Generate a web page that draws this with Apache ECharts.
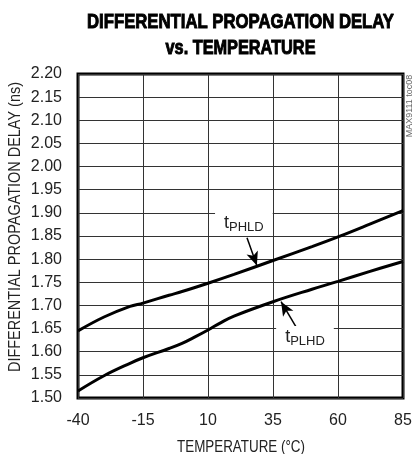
<!DOCTYPE html>
<html><head><meta charset="utf-8">
<script src="https://cdn.jsdelivr.net/npm/echarts@6/dist/echarts.min.js"></script>
<style>html,body{margin:0;padding:0;background:#fff}#c{width:415px;height:454px}</style>
</head><body><div id="c"></div>
<script>
// Temperature (°C) and delay (ns)
const tempPHLD = [-40, -30, -20, -15, -5, 0, 10, 20, 35, 50, 60, 72, 85];
const valPHLD  = [1.645, 1.675, 1.698, 1.705, 1.722, 1.730, 1.748, 1.767, 1.797, 1.827, 1.848, 1.875, 1.905];
const tempPLHD = [-40, -30, -20, -15, -5, 0, 5, 10, 15, 20, 35, 50, 60, 72, 85];
const valPLHD  = [1.515, 1.548, 1.575, 1.587, 1.607, 1.618, 1.632, 1.647, 1.663, 1.677, 1.708, 1.735, 1.752, 1.773, 1.795];
const xTickLabels = ['-40', '-15', '10', '35', '60', '85'];
const yMin = 1.50, yMax = 2.20, yStep = 0.05;
const xMin = -40, xMax = 85, xStep = 25;
const titleLines = ['DIFFERENTIAL PROPAGATION DELAY', 'vs. TEMPERATURE'];
const xName = 'TEMPERATURE (°C)';
const yName = 'DIFFERENTIAL PROPAGATION DELAY (ns)';
// annotation anchors in data space [temp, ns]
const labelPHLD = [23.8, 1.879], arrowPHLD = [[25.0, 1.846], [28.8, 1.786]];
const labelPLHD = [47.3, 1.632], arrowPLHD = [[43.8, 1.654], [38.1, 1.708]];

const off = -xMin; // shift so axis min is 0 (multiple of interval)
const pts = (xs, ys) => xs.map((x, i) => [x + off, ys[i]]);
const c = p => [p[0] + off, p[1]];
const FONT = '"Liberation Sans", Arial, sans-serif';
const cvs = document.createElement('canvas').getContext('2d');
function measure(text, size, weight) { cvs.font = (weight || 'normal') + ' ' + size + 'px ' + FONT; return cvs.measureText(text).width; }
function fitText(text, size, weight, targetW, x, y, rot, color, strokeW) {
  const s = targetW / measure(text, size, weight);
  const style = {text: text, fontFamily: FONT, fontSize: size, fontWeight: weight || 'normal', fill: color || '#222',
      align: 'center', verticalAlign: 'middle'};
  if (strokeW) { style.stroke = color; style.lineWidth = strokeW; }
  return {type: 'text', x: x, y: y, rotation: rot || 0, scaleX: s, silent: true, style: style};
}
const rich = {
  t: {fontSize: 18, fontFamily: FONT, color: '#222', lineHeight: 22},
  s: {fontSize: 13, fontFamily: FONT, color: '#222', lineHeight: 22, padding: [9, 0, 0, 0]}
};
function annot(lbl, arrow, sub) {
  return {
    markPoint: {
      silent: true, symbol: 'rect', symbolSize: 0.1,
      data: [{coord: c(lbl), label: {show: true, position: 'inside', formatter: '{t|t}{s|' + sub + '}',
        rich: rich, backgroundColor: '#fff', padding: [0, 9, 0, 9]}}]
    },
    markLine: {
      silent: true, symbol: ['none', 'arrow'], symbolSize: [9, 14],
      lineStyle: {color: '#000', width: 1.5, type: 'solid'}, label: {show: false},
      data: [[{coord: c(arrow[0])}, {coord: c(arrow[1])}]]
    }
  };
}
const chart = echarts.init(document.getElementById('c'), null, {renderer: 'canvas'});
chart.setOption({
  animation: false,
  grid: {left: 78, right: 12, top: 74, bottom: 56, show: true, borderColor: '#000', borderWidth: 3, backgroundColor: 'transparent'},
  xAxis: {
    type: 'value', min: 0, max: xMax - xMin, interval: xStep,
    axisLine: {show: false}, axisTick: {show: false},
    axisLabel: {margin: 15, fontFamily: FONT, fontSize: 16, color: '#222',
      formatter: v => xTickLabels[Math.round(v / xStep)]},
    splitLine: {show: true, lineStyle: {color: '#333', width: 1}}
  },
  yAxis: {
    type: 'value', min: yMin, max: yMax, interval: yStep,
    axisLine: {show: false}, axisTick: {show: false},
    axisLabel: {margin: 16, fontFamily: FONT, fontSize: 16, color: '#222', formatter: v => v.toFixed(2)},
    splitLine: {show: true, lineStyle: {color: '#333', width: 1}}
  },
  graphic: [
    fitText(titleLines[0], 21, 'bold', 307, 240.5, 22, 0, '#000', 1),
    fitText(titleLines[1], 21, 'bold', 150, 240.5, 48, 0, '#000', 1),
    fitText(xName, 16, 'normal', 128, 241, 448, 0),
    fitText(yName, 16, 'normal', 290, 15.5, 227, Math.PI / 2),
    {type: 'text', x: 414, y: 106, rotation: Math.PI / 2, silent: true,
      style: {text: 'MAX9111 toc08', fontFamily: FONT, fontSize: 9, fill: '#666', align: 'center', verticalAlign: 'bottom'}}
  ],
  series: [
    Object.assign({type: 'line', name: 'tPHLD', data: pts(tempPHLD, valPHLD), smooth: 0.4, showSymbol: false,
      lineStyle: {color: '#000', width: 3}, z: 3}, annot(labelPHLD, arrowPHLD, 'PHLD')),
    Object.assign({type: 'line', name: 'tPLHD', data: pts(tempPLHD, valPLHD), smooth: 0.4, showSymbol: false,
      lineStyle: {color: '#000', width: 3}, z: 3}, annot(labelPLHD, arrowPLHD, 'PLHD'))
  ]
});
</script></body></html>
